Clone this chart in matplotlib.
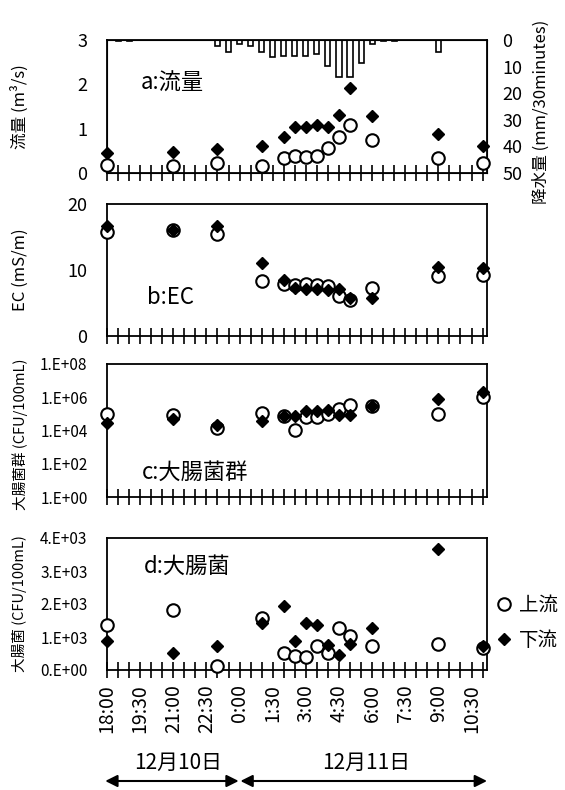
import matplotlib
matplotlib.use('Agg')
import matplotlib.pyplot as plt
import numpy as np

plt.rcParams['font.family'] = ['Noto Sans CJK JP', 'DejaVu Sans']

# 採水時刻と観測値
sample_times = ['18:00', '21:00', '23:00', '1:00', '2:00', '2:30', '3:00', '3:30',
                '4:00', '4:30', '5:00', '6:00', '9:00', '11:00']
flow_up = [0.17, 0.15, 0.22, 0.16, 0.34, 0.39, 0.37, 0.39, 0.56, 0.81, 1.09, 0.75, 0.34, 0.23]
flow_down = [0.44, 0.47, 0.55, 0.62, 0.81, 1.04, 1.04, 1.09, 1.04, 1.31, 1.92, 1.28, 0.89, 0.61]
ec_up = [15.8, 16.0, 15.4, 8.4, 7.9, 7.7, 7.9, 7.7, 7.6, 6.1, 5.4, 7.3, 9.1, 9.3]
ec_down = [16.6, 16.1, 16.6, 11.1, 8.5, 7.2, 7.1, 7.1, 7.0, 7.1, 5.7, 5.7, 10.4, 10.3]
coli_group_up = [1.0e5, 8.7e4, 1.5e4, 1.1e5, 7.0e4, 1.1e4, 6.9e4, 6.9e4,
                 1.0e5, 2.0e5, 3.2e5, 2.8e5, 1.0e5, 1.1e6]
coli_group_down = [2.7e4, 4.7e4, 2.1e4, 3.9e4, 7.9e4, 7.6e4, 1.4e5, 1.4e5,
                   1.6e5, 8.7e4, 8.7e4, 2.8e5, 7.9e5, 2.2e6]
ecoli_up = [1350, 1820, 120, 1590, 530, 430, 390, 720, 530, 1280, 1020, 720, 800, 670]
ecoli_down = [870, 510, 720, 1420, 1930, 870, 1420, 1350, 770, 460, 800, 1280, 3670, 740]

# 降水量 (mm/30分)
rain_times = ['18:30', '19:00', '23:00', '23:30', '0:00', '0:30', '1:00', '1:30', '2:00',
              '2:30', '3:00', '3:30', '4:00', '4:30', '5:00', '5:30', '6:00', '6:30',
              '7:00', '9:00']
rain = [0.5, 0.5, 2.1, 4.4, 1.5, 2.3, 4.4, 6.3, 6.0, 6.0, 6.0, 5.4, 9.8, 14.0, 14.0,
        8.5, 1.5, 0.5, 0.5, 4.4]

tick_labels = ['18:00', '19:30', '21:00', '22:30', '0:00', '1:30', '3:00', '4:30',
               '6:00', '7:30', '9:00', '10:30']
c_ticks = [1e0, 1e2, 1e4, 1e6, 1e8]
c_labels = ['1.E+00', '1.E+02', '1.E+04', '1.E+06', '1.E+08']
d_ticks = [0, 1000, 2000, 3000, 4000]
d_labels = ['0.E+00', '1.E+03', '2.E+03', '3.E+03', '4.E+03']


def hours(t):
    # 12/10 18:00 からの経過時間
    h, m = map(int, t.split(':'))
    v = h + m / 60 - 18
    return v if v >= 0 else v + 24


t = [hours(s) for s in sample_times]
rt = [hours(s) for s in rain_times]
midnight = hours('0:00')

W, H = 565, 790
fig = plt.figure(figsize=(W / 100, H / 100), dpi=100)


def fx(x):
    return x / W


def fy(y):
    return 1 - y / H


def box(top, bottom, left=107, right=487):
    return [left / W, 1 - bottom / H, (right - left) / W, (bottom - top) / H]


axa = fig.add_axes(box(40, 173))
axb = fig.add_axes(box(204, 336))
axc = fig.add_axes(box(364, 497))
axd = fig.add_axes(box(538, 670))
axes = [axa, axb, axc, axd]

XMAX = 17.2
ticks = np.arange(0, 17.01, 0.5)
for ax in axes:
    ax.set_xlim(0, XMAX)
    ax.set_xticks(ticks)
    ax.tick_params(axis='x', direction='inout', length=12, width=1.2,
                   labelbottom=False)
    ax.tick_params(axis='y', length=0, pad=14, labelsize=13)
    for sp in ax.spines.values():
        sp.set_linewidth(1.3)


def points(ax, up, down):
    ax.plot(t, up, 'o', ms=9, mfc='white', mec='black', mew=1.5, ls='none',
            clip_on=False, zorder=3, label='上流')
    ax.plot(t, down, 'D', ms=6.5, color='black', ls='none',
            clip_on=False, zorder=4, label='下流')


# a: 流量 + 降水量
ax2 = axa.twinx()
ax2.bar(rt, rain, width=0.23, color='white', edgecolor='black', linewidth=1.2)
ax2.set_ylim(50, 0)
ax2.set_yticks(range(0, 51, 10))
ax2.tick_params(axis='y', length=0, pad=11, labelsize=13)
ax2.set_xlim(0, XMAX)
axa.set_zorder(ax2.get_zorder() + 1)
axa.patch.set_visible(False)
points(axa, flow_up, flow_down)
axa.set_ylim(0, 3)
axa.set_yticks([0, 1, 2, 3])

# b: EC
points(axb, ec_up, ec_down)
axb.set_ylim(0, 20)
axb.set_yticks([0, 10, 20])

# c: 大腸菌群
axc.set_yscale('log')
points(axc, coli_group_up, coli_group_down)
axc.set_ylim(1, 1e8)
axc.set_yticks(c_ticks)
axc.set_yticklabels(c_labels)
axc.yaxis.set_minor_locator(matplotlib.ticker.NullLocator())
axc.tick_params(axis='y', labelsize=11)

# d: 大腸菌
points(axd, ecoli_up, ecoli_down)
axd.set_ylim(0, 4000)
axd.set_yticks(d_ticks)
axd.set_yticklabels(d_labels)
axd.tick_params(axis='y', labelsize=11)
axd.set_xticklabels([tick_labels[i // 3] if i % 3 == 0 else '' for i in range(len(ticks))])
axd.tick_params(axis='x', labelbottom=True, labelrotation=90, labelsize=14, pad=4)

# 軸ラベル
fig.text(fx(20), fy(107), '流量 (m³/s)', rotation=90, ha='center', va='center', fontsize=12)
fig.text(fx(20), fy(270), 'EC (mS/m)', rotation=90, ha='center', va='center', fontsize=12)
fig.text(fx(20), fy(434), '大腸菌群 (CFU/100mL)', rotation=90, ha='center', va='center',
         fontsize=10.5)
fig.text(fx(20), fy(604), '大腸菌 (CFU/100mL)', rotation=90, ha='center', va='center',
         fontsize=10.5)
fig.text(fx(541), fy(112), '降水量 (mm/30minutes)', rotation=90, ha='center', va='center',
         fontsize=12)

# パネル名
fig.text(fx(141), fy(83), 'a:流量', va='center', fontsize=16)
fig.text(fx(147), fy(298), 'b:EC', va='center', fontsize=16)
fig.text(fx(142), fy(472), 'c:大腸菌群', va='center', fontsize=16)
fig.text(fx(144), fy(566), 'd:大腸菌', va='center', fontsize=16)

# 凡例
h, l = axd.get_legend_handles_labels()
fig.legend(h, l, loc='center left', bbox_to_anchor=(fx(494), fy(623)), frameon=False,
           fontsize=14, handletextpad=0.3, labelspacing=0.7, handlelength=1.0,
           borderpad=0, borderaxespad=0)

# 日付と矢印
fig.text(fx(178), fy(763), '12月10日', ha='center', va='center', fontsize=15)
fig.text(fx(366), fy(763), '12月11日', ha='center', va='center', fontsize=15)
for x0, x1 in [(-0.08, midnight - 0.04), (midnight + 0.04, XMAX)]:
    axd.annotate('', xy=(x0, fy(781)), xytext=(x1, fy(781)),
                 xycoords=('data', 'figure fraction'),
                 textcoords=('data', 'figure fraction'),
                 arrowprops=dict(arrowstyle='<|-|>', color='black', lw=1.5,
                                 mutation_scale=18, shrinkA=0, shrinkB=0),
                 annotation_clip=False)

fig.savefig('out.png', dpi=100)
